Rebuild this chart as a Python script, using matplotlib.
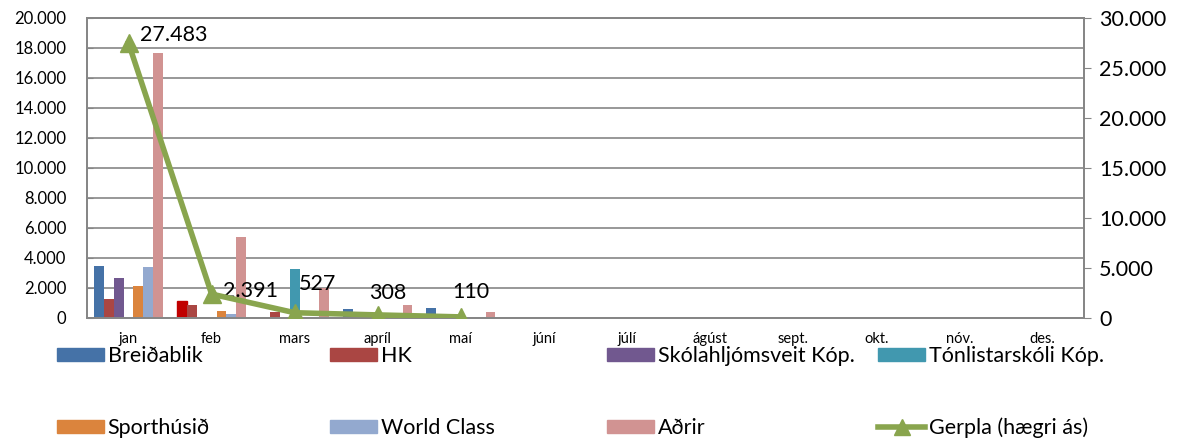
import numpy as np
import matplotlib
matplotlib.use("Agg")
import matplotlib.pyplot as plt
from matplotlib.patches import Patch
from matplotlib.lines import Line2D

plt.rcParams['font.family'] = ['Lato', 'DejaVu Sans']

months = ["jan", "feb", "mars", "apríl", "maí", "júní", "júlí", "ágúst",
          "sept.", "okt.", "nóv.", "des."]

breidablik = [3450, 1130, 0, 580, 650, 0, 0, 0, 0, 0, 0, 0]
hk = [1300, 900, 400, 0, 0, 0, 0, 0, 0, 0, 0, 0]
skolahljomsveit = [2650, 0, 0, 0, 0, 0, 0, 0, 0, 0, 0, 0]
tonlistarskoli = [0, 0, 3270, 0, 100, 0, 0, 0, 0, 0, 0, 0]
sporthusid = [2150, 450, 0, 0, 0, 0, 0, 0, 0, 0, 0, 0]
world_class = [3380, 270, 0, 0, 0, 0, 0, 0, 0, 0, 0, 0]
adrir = [17700, 5400, 2000, 900, 420, 0, 0, 0, 0, 0, 0, 0]
gerpla = [27483, 2391, 527, 308, 110]

series_names = ["Breiðablik", "HK", "Skólahljómsveit Kóp.", "Tónlistarskóli Kóp.",
                "Sporthúsið", "World Class", "Aðrir"]
series_values = [breidablik, hk, skolahljomsveit, tonlistarskoli,
                 sporthusid, world_class, adrir]
colors = ["#4572A7", "#AA4643", "#71588F", "#4198AF", "#DB843D", "#93A9CF", "#D19392"]
line_color = "#89A54E"

fig = plt.figure(figsize=(11.78, 4.45), dpi=100)
ax = fig.add_axes([87/1178, 1-318/445, (1084-87)/1178, (318-18)/445])
ax2 = ax.twinx()

x = np.arange(len(months))
n = len(series_values)
group = 1/1.2
bw = group / n
for i, (name, vals, c) in enumerate(zip(series_names, series_values, colors)):
    pos = x - group/2 + bw*(i+0.5)
    bars = ax.bar(pos, vals, width=bw, color=c, zorder=2)
    if name == "Breiðablik":
        bars[1].set_color("#C00000")

ax.set_xlim(-0.5, len(months)-0.5)
ax.set_ylim(0, 20000)
ax.set_yticks(np.arange(0, 20001, 2000))
ax.set_yticklabels([f"{v:,}".replace(",", ".") for v in range(0, 20001, 2000)], fontsize=12)
ax.set_xticks(x)
ax.set_xticklabels(months, fontsize=10.5)
ax.tick_params(axis='x', length=0, pad=10)
ax.tick_params(axis='y', direction='in', length=4, color="#868686", pad=15)
ax.grid(axis='y', color="#868686", linewidth=1.2, zorder=0)
ax.set_axisbelow(True)
for s in ax.spines.values():
    s.set_color("#868686")
    s.set_linewidth(1.3)
for s in ax2.spines.values():
    s.set_color("#868686")
    s.set_linewidth(1.3)

ax2.set_ylim(0, 30000)
ax2.set_yticks(np.arange(0, 30001, 5000))
ax2.set_yticklabels([f"{v:,}".replace(",", ".") for v in range(0, 30001, 5000)], fontsize=15.5)
ax2.tick_params(axis='y', direction='out', length=5, color="#868686", pad=6)

gx = x[:len(gerpla)]
ax2.plot(gx, gerpla, color=line_color, linewidth=4, marker='^', markersize=13,
         markerfacecolor=line_color, markeredgecolor=line_color, zorder=5)
label_offsets = [(8, 6), (8, 2), (3, 21), (-6, 16), (-6, 18)]
for xi, v, (dx, dy) in zip(gx, gerpla, label_offsets):
    ax2.annotate(f"{v:,}".replace(",", "."), (xi, v), xytext=(dx, dy),
                 textcoords='offset points', fontsize=15.5, ha='left', va='center')

# legend (4 columns x 2 rows)
handles = [Patch(facecolor=c, edgecolor=c) for c in colors]
handles.append(Line2D([0], [0], color=line_color, linewidth=4, marker='^',
                      markersize=11, markerfacecolor=line_color))
labels = series_names + ["Gerpla (hægri ás)"]
col_x = [57, 330, 607, 878]
row_y = [356, 428]
for k, (h, lab) in enumerate(zip(handles, labels)):
    cx = col_x[k % 4]
    cy = row_y[k // 4]
    fig.legend([h], [lab], loc='center left', bbox_to_anchor=(cx/1178, 1-cy/445),
               frameon=False, fontsize=15.5, handlelength=2.2, handleheight=0.6,
               handletextpad=0.15, borderaxespad=0, borderpad=0)

fig.savefig("out.png", dpi=100)
